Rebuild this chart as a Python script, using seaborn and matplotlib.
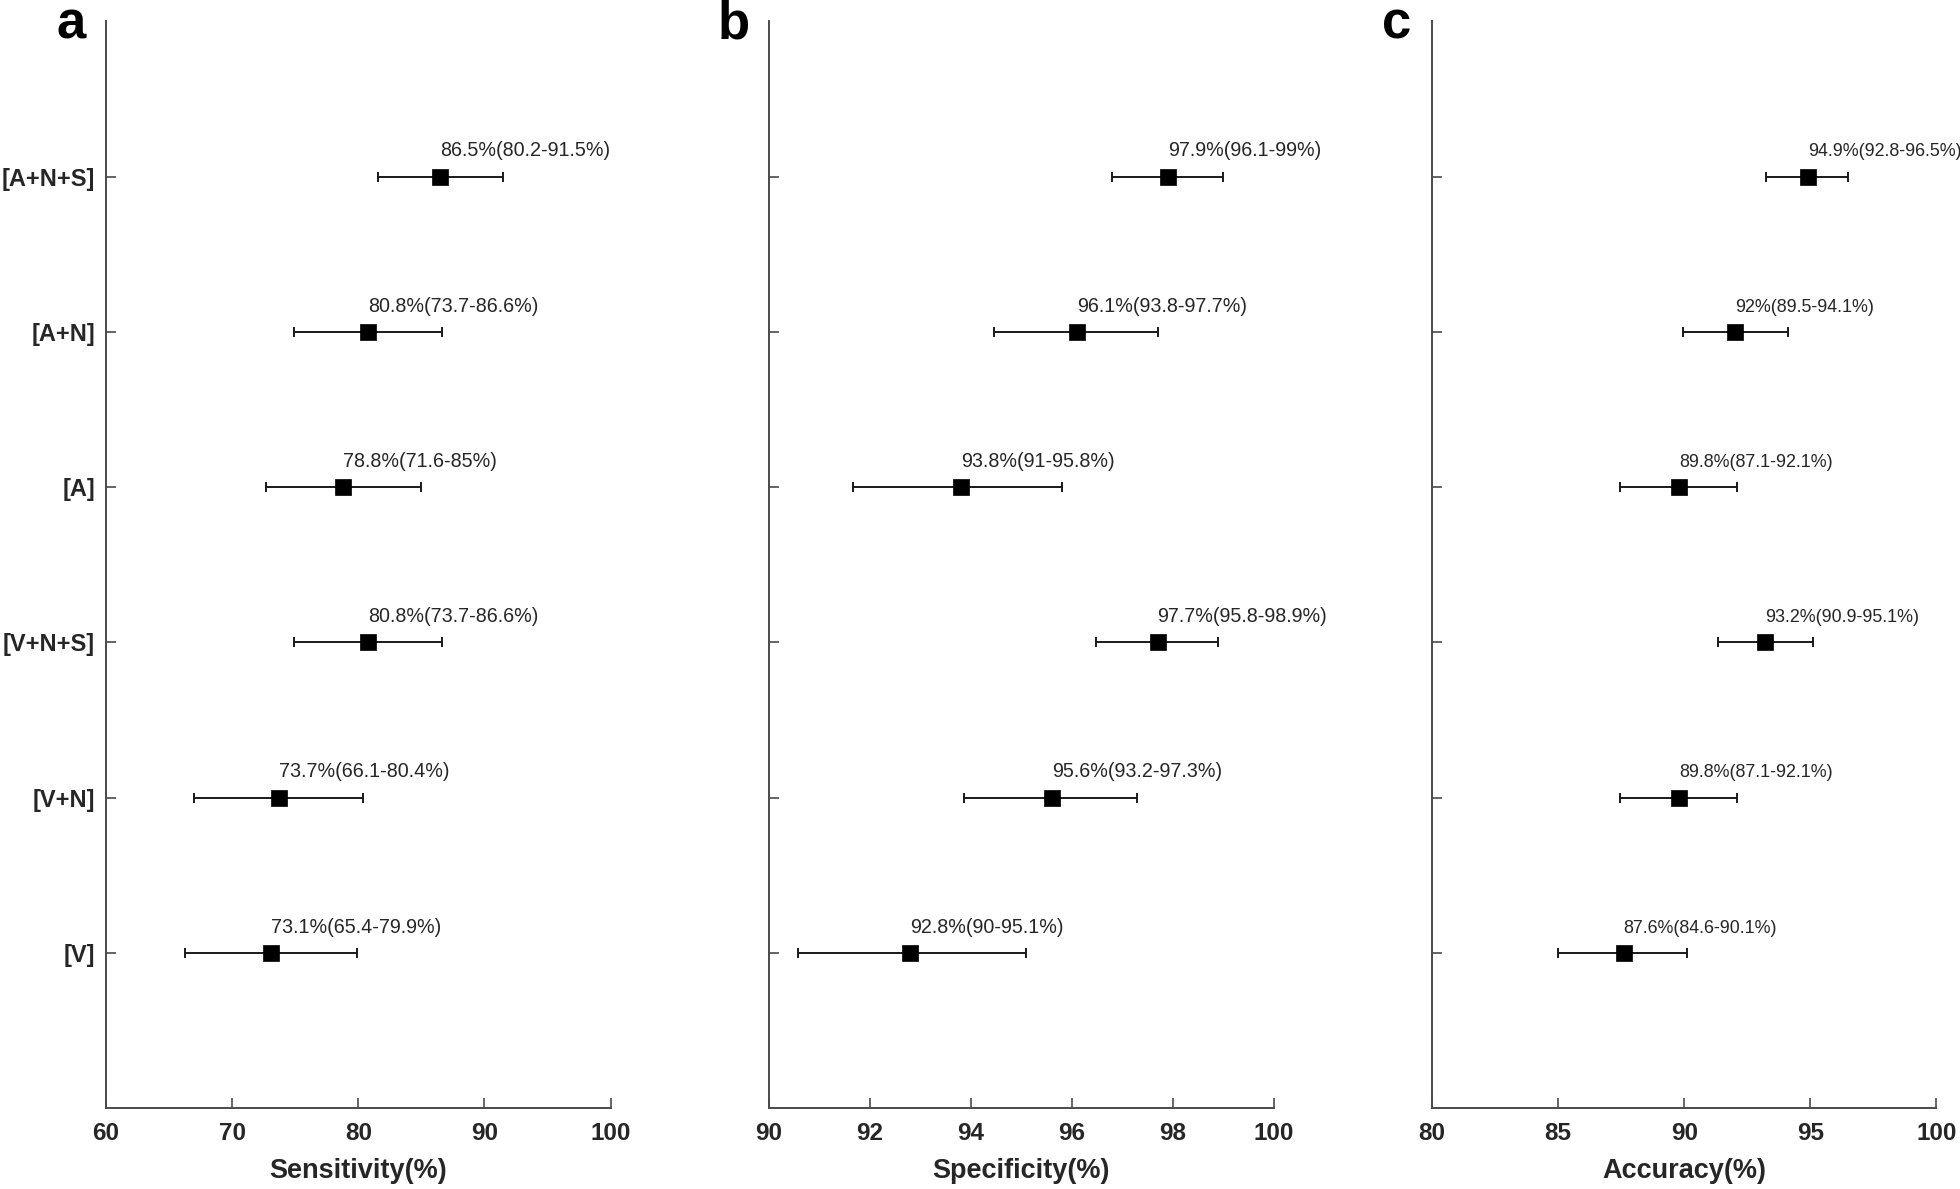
import numpy as np
import pandas as pd
import matplotlib
matplotlib.use("Agg")
import matplotlib.pyplot as plt
import seaborn as sns

# groups, top to bottom
groups = ['[A+N+S]', '[A+N]', '[A]', '[V+N+S]', '[V+N]', '[V]']

# sensitivity
sens = [86.5, 80.8, 78.8, 80.8, 73.7, 73.1]
sens_ci_lo = [80.2, 73.7, 71.6, 73.7, 66.1, 65.4]
sens_ci_hi = [91.5, 86.6, 85.0, 86.6, 80.4, 79.9]
sens_bar_lo = [81.6, 74.9, 72.7, 74.9, 67.0, 66.3]   # left whisker ends as drawn

# specificity
spec = [97.9, 96.1, 93.8, 97.7, 95.6, 92.8]
spec_ci_lo = [96.1, 93.8, 91.0, 95.8, 93.2, 90.0]
spec_ci_hi = [99.0, 97.7, 95.8, 98.9, 97.3, 95.1]
spec_bar_lo = [96.8, 94.45, 91.66, 96.47, 93.86, 90.58]

# accuracy
acc = [94.9, 92.0, 89.8, 93.2, 89.8, 87.6]
acc_ci_lo = [92.8, 89.5, 87.1, 90.9, 87.1, 84.6]
acc_ci_hi = [96.5, 94.1, 92.1, 95.1, 92.1, 90.1]
acc_bar_lo = [93.26, 89.95, 87.45, 91.34, 87.45, 85.0]

sns.set_theme(style="ticks")
plt.rcParams['font.family'] = ['Liberation Sans', 'DejaVu Sans']

fig = plt.figure(figsize=(19.6, 11.89), dpi=100)

panels = [
    ('a', 'Sensitivity(%)', sens, sens_ci_lo, sens_ci_hi, sens_bar_lo, (60, 100), np.arange(60, 101, 10), 0.0541, 14.2),
    ('b', 'Specificity(%)', spec, spec_ci_lo, spec_ci_hi, spec_bar_lo, (90, 100), np.arange(90, 101, 2), 0.3924, 14.2),
    ('c', 'Accuracy(%)', acc, acc_ci_lo, acc_ci_hi, acc_bar_lo, (80, 100), np.arange(80, 101, 5), 0.7306, 12.9),
]

ypos = np.arange(len(groups), 0, -1)
dark = '#262626'
axcol = '#4a4a4a'

for letter, xlabel, vals, lo, hi, bar_lo, xlim, xticks, left, fs in panels:
    ax = fig.add_axes([left, 0.068, 0.2574, 0.914])
    df = pd.DataFrame({'group': groups, 'y': ypos, 'val': vals,
                       'lo': bar_lo, 'hi': hi})

    ax.errorbar(df['val'], df['y'],
                xerr=[df['val'] - df['lo'], df['hi'] - df['val']],
                fmt='none', ecolor='#1a1a1a', elinewidth=1.4,
                capsize=3.5, capthick=1.4, zorder=2)
    sns.scatterplot(data=df, x='val', y='y', marker='s', s=145,
                    color='black', edgecolor='black', linewidth=0.5,
                    ax=ax, zorder=3, legend=False)

    for v, l, h, y in zip(vals, lo, hi, ypos):
        ax.text(v, y + 0.13, f'{v:g}%({l:g}-{h:g}%)', ha='left', va='baseline',
                fontsize=fs, color=dark, clip_on=False)

    ax.set_xlim(*xlim)
    ax.set_ylim(0, 7)
    ax.set_xticks(xticks)
    ax.set_yticks(ypos)
    if letter == 'a':
        ax.set_yticklabels(groups, fontsize=17, fontweight='bold', color=dark)
    else:
        ax.set_yticklabels([])
    ax.set_xticklabels([f'{t:g}' for t in xticks], fontsize=17.5,
                       fontweight='bold', color=dark)
    ax.set_xlabel(xlabel, fontsize=19.5, fontweight='bold', color=dark, labelpad=9)
    ax.set_ylabel('')

    sns.despine(ax=ax)
    for sp in ['left', 'bottom']:
        ax.spines[sp].set_color(axcol)
        ax.spines[sp].set_linewidth(1.4)
    ax.tick_params(axis='both', direction='in', length=7, width=1.2,
                   color=axcol)
    ax.tick_params(axis='x', pad=10)
    ax.tick_params(axis='y', pad=8)

    fig.text(left - 0.018, 0.979, letter, fontsize=38, fontweight='bold',
             ha='center', va='center', color='black')

fig.savefig('out.png', dpi=100, facecolor='white')
